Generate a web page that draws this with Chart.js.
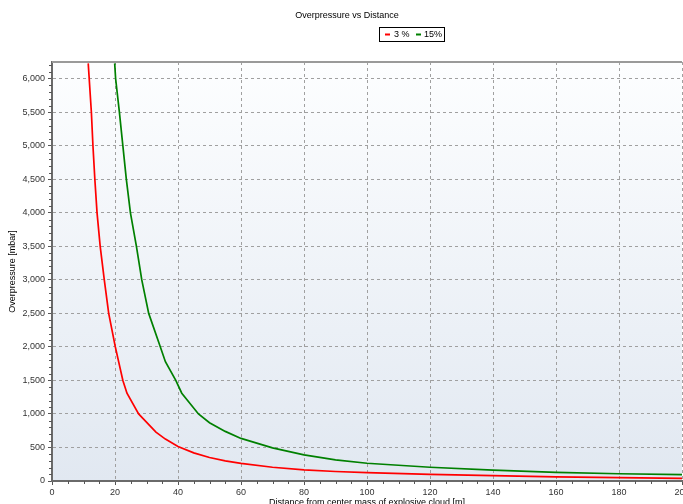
<!DOCTYPE html>
<html>
<head>
<meta charset="utf-8">
<script src="https://cdn.jsdelivr.net/npm/chart.js@4/dist/chart.umd.min.js"></script>
<style>
  html, body { margin: 0; padding: 0; overflow: hidden; background: #fff; }
  #wrap { position: relative; width: 683px; height: 508px; }
</style>
</head>
<body>
<div id="wrap"><canvas id="chart"></canvas></div>
<script>
// distance [m] and overpressure [mbar]
const dist3 = [11.5, 12.5, 13.0, 13.6, 14.3, 15.3, 16.6, 18.0, 20.1, 22.5, 23.8, 27.5, 33, 36, 40, 45, 50, 55, 60, 70, 80, 90, 100, 120, 140, 160, 180, 200];
const press3 = [6230, 5500, 5000, 4500, 4000, 3500, 3000, 2500, 2000, 1500, 1310, 1000, 730, 625, 515, 420, 350, 300, 262, 205, 165, 142, 125, 100, 80, 63, 50, 38];

const dist15 = [19.9, 20.2, 21.4, 22.5, 23.6, 24.9, 26.8, 28.5, 30.7, 34.4, 36, 39.3, 41.2, 46.5, 50, 55, 60, 70, 80, 90, 100, 120, 140, 160, 180, 200];
const press15 = [6230, 6000, 5500, 5000, 4500, 4000, 3500, 3000, 2500, 2000, 1780, 1500, 1310, 1000, 870, 740, 635, 495, 390, 315, 265, 205, 162, 130, 108, 94];

const seriesNames = ["3 %", "15%"];
const seriesColors = ["#ff0000", "#008000"];

// axis ticks
const xTickValues = [0, 20, 40, 60, 80, 100, 120, 140, 160, 180, 200];
const yTickValues = [0, 500, 1000, 1500, 2000, 2500, 3000, 3500, 4000, 4500, 5000, 5500, 6000];
const xRange = [0, 200];
const yRange = [0, 6250];
const xMinorStep = 5;
const yMinorStep = 100;

const chartTitle = "Overpressure vs Distance";
const xTitle = "Distance from center mass of explosive cloud [m]";
const yTitle = "Overpressure [mbar]";

const FONT = "'Liberation Sans', Arial, sans-serif";

function points(xs, ys) {
    return xs.map((x, i) => ({ x: x, y: ys[i] }));
}

const plotBackground = {
    id: "plotBackground",
    beforeDraw(chart) {
        const { ctx, chartArea: a } = chart;
        const g = ctx.createLinearGradient(0, a.top, 0, a.bottom);
        g.addColorStop(0, "#fdfeff");
        g.addColorStop(1, "#e1e8f1");
        ctx.save();
        ctx.fillStyle = g;
        ctx.fillRect(a.left, a.top, a.right - a.left, a.bottom - a.top);
        ctx.restore();
    }
};

const extras = {
    id: "extras",
    afterDraw(chart) {
        const { ctx, chartArea: a } = chart;
        const xs = chart.scales.x, ys = chart.scales.y;
        ctx.save();
        // top frame line
        ctx.strokeStyle = "#9a9a9a";
        ctx.lineWidth = 2;
        ctx.beginPath();
        ctx.moveTo(a.left, a.top);
        ctx.lineTo(a.right, a.top);
        ctx.stroke();
        // minor ticks
        ctx.strokeStyle = "#555";
        ctx.lineWidth = 1;
        ctx.beginPath();
        for (let v = xRange[0]; v <= xRange[1]; v += xMinorStep) {
            if (xTickValues.includes(v)) continue;
            const px = Math.round(xs.getPixelForValue(v)) + 0.5;
            ctx.moveTo(px, a.bottom);
            ctx.lineTo(px, a.bottom + 3);
        }
        for (let v = yRange[0]; v <= yRange[1]; v += yMinorStep) {
            if (yTickValues.includes(v)) continue;
            const py = Math.round(ys.getPixelForValue(v)) + 0.5;
            ctx.moveTo(a.left - 3, py);
            ctx.lineTo(a.left, py);
        }
        ctx.stroke();

        ctx.font = "9px " + FONT;
        ctx.fillStyle = "#000";
        ctx.textAlign = "center";
        ctx.textBaseline = "middle";

        // chart title, a little right of the canvas centre as in the original
        ctx.fillText(chartTitle, 347, 15.5);

        // y axis title
        ctx.save();
        ctx.translate(13, (a.top + a.bottom) / 2);
        ctx.rotate(-Math.PI / 2);
        ctx.fillText(yTitle, 0, 0);
        ctx.restore();

        // legend box
        const bx = 379.5, by = 27.5, bw = 65, bh = 14;
        ctx.strokeStyle = "#000";
        ctx.lineWidth = 1;
        ctx.strokeRect(bx, by, bw, bh);
        ctx.textAlign = "left";
        const items = [[385, 394], [416, 424]];
        chart.data.datasets.forEach((ds, i) => {
            const [lx, tx] = items[i];
            ctx.strokeStyle = ds.borderColor;
            ctx.lineWidth = 2;
            ctx.beginPath();
            ctx.moveTo(lx, by + bh / 2);
            ctx.lineTo(lx + 5, by + bh / 2);
            ctx.stroke();
            ctx.fillText(ds.label, tx, by + bh / 2 + 0.5);
        });
        ctx.restore();
    }
};

const tickFont = { family: FONT, size: 9 };

new Chart(document.getElementById("chart"), {
    type: "line",
    data: {
        datasets: [{
            label: seriesNames[0],
            data: points(dist3, press3),
            borderColor: seriesColors[0],
            borderWidth: 1.7,
            pointRadius: 0,
            fill: false,
            tension: 0
        }, {
            label: seriesNames[1],
            data: points(dist15, press15),
            borderColor: seriesColors[1],
            borderWidth: 1.7,
            pointRadius: 0,
            fill: false,
            tension: 0
        }]
    },
    options: {
        responsive: true,
        maintainAspectRatio: false,
        animation: false,
        layout: { padding: { left: 0, right: 1, top: 62, bottom: 0 } },
        plugins: {
            legend: { display: false },
            tooltip: { enabled: false },
            title: { display: false }
        },
        scales: {
            x: {
                type: "linear",
                min: xRange[0],
                max: xRange[1],
                afterFit(s) { s.height = 27; s.paddingRight = 0; s.paddingLeft = 0; },
                afterBuildTicks(s) { s.ticks = xTickValues.map(v => ({ value: v })); },
                ticks: {
                    padding: 2,
                    maxRotation: 0,
                    autoSkip: false,
                    color: "#333",
                    font: tickFont
                },
                grid: { color: "#a0a0a0", tickColor: "#555", tickLength: 4, lineWidth: 1 },
                border: { display: true, color: "#6a6a6a", width: 2, dash: [3, 3] },
                title: {
                    display: true,
                    text: xTitle,
                    color: "#000",
                    font: tickFont,
                    padding: { top: 0, bottom: 0 }
                }
            },
            y: {
                min: yRange[0],
                max: yRange[1],
                afterFit(s) { s.width = 52; s.paddingTop = 0; },
                afterBuildTicks(s) { s.ticks = yTickValues.map(v => ({ value: v })); },
                ticks: {
                    padding: 3,
                    autoSkip: false,
                    color: "#333",
                    font: tickFont,
                    callback: v => v.toLocaleString("en-US")
                },
                grid: { color: "#a0a0a0", tickColor: "#555", tickLength: 4, lineWidth: 1 },
                border: { display: true, color: "#6a6a6a", width: 2, dash: [3, 3] },
                title: { display: false }
            }
        }
    },
    plugins: [plotBackground, extras]
});
</script>
</body>
</html>
